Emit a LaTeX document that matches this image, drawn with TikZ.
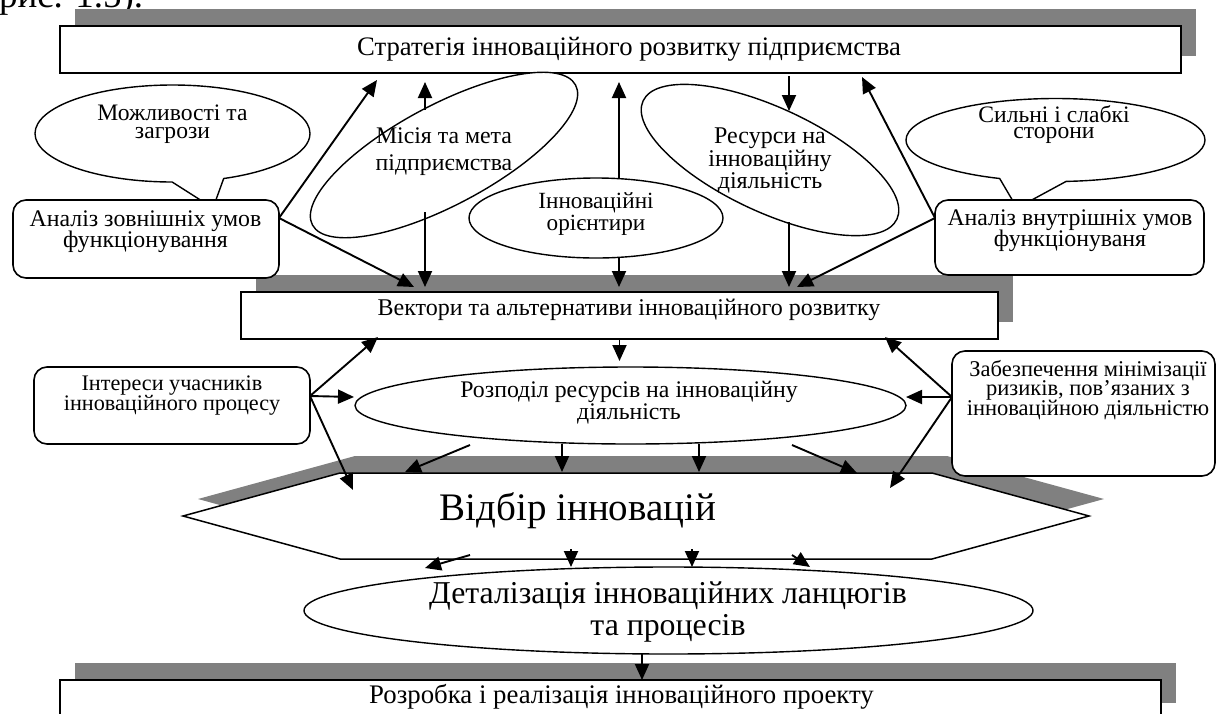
\documentclass[tikz,border=0pt]{standalone}
\usepackage{fontspec}
\setmainfont{Liberation Serif}
\usetikzlibrary{arrows.meta,shapes.geometric,shapes.callouts,shadows,calc}
\definecolor{shadowgray}{RGB}{128,128,128}
\newcommand\mlines[1]{\begin{tabular}[t]{@{}c@{}}#1\end{tabular}}
\newcommand\fs[2]{\fontsize{#1}{#2}\selectfont}
\begin{document}
\begin{tikzpicture}[x=1pt,y=-1pt,
  every node/.style={inner sep=0pt,outer sep=0pt},
  shad/.style={drop shadow={shadow xshift=15pt,shadow yshift=17pt,fill=shadowgray,opacity=1}},
  sbox/.style={draw,fill=white,line width=1.8pt,rectangle,shad},
  rbox/.style={draw,fill=white,line width=1.6pt,rectangle,rounded corners=13pt},
  ell/.style={draw,fill=white,line width=1.4pt,ellipse},
  call/.style={draw,fill=white,line width=1.4pt,ellipse callout},
  arr/.style={line width=1.9pt,-{Triangle[length=16pt,width=14pt]}},
  lbl/.style={anchor=base,text=black},
]
\useasboundingbox (0,0) rectangle (1216,713);

% caption fragment cut by the top edge
\node[anchor=base west,font=\fs{37}{37}] (cap) at (-1,7) {рис. 1.5).};

% boxes with shadows
\node[sbox,minimum width=1121pt,minimum height=47pt] (strat) at (620.5,49.5) {};
\node[sbox,minimum width=757pt,minimum height=47pt] (vec) at (619.5,315.5) {};
\draw[line width=1.5pt,fill=white,shad] (340,473) -- (932,473) -- (1089,516) -- (932,559) -- (340,559) -- (183,516) -- cycle;
\node[sbox,minimum width=1101pt,minimum height=40pt] (rozr) at (610.5,700) {};

% ellipses
\node[ell,minimum width=298pt,minimum height=100pt,rotate=28] (mis) at (444,155) {};
\node[ell,minimum width=254pt,minimum height=80pt] (ori) at (596,218) {};
\node[ell,minimum width=280pt,minimum height=104pt,rotate=-25] (res) at (770,160) {};
\node[ell,minimum width=551pt,minimum height=77pt] (rozp) at (630.5,405.5) {};
\node[ell,minimum width=729pt,minimum height=87pt] (det) at (668.5,610.5) {};

% callouts
\node[call,minimum width=275pt,minimum height=97pt,callout pointer arc=22,callout absolute pointer={(213,208)}] (mog) at (172.5,133.5) {};
\node[call,minimum width=299pt,minimum height=83pt,callout pointer arc=26,callout absolute pointer={(1017,208)}] (syl) at (1055.5,140) {};

% rounded boxes
\node[rbox,minimum width=266pt,minimum height=78pt] (an1) at (146,239) {};
\node[rbox,minimum width=269pt,minimum height=75pt] (an2) at (1069.5,237.5) {};
\node[rbox,minimum width=276pt,minimum height=77pt] (int) at (172,405.5) {};
\node[rbox,minimum width=263pt,minimum height=125pt] (zab) at (1083.5,413.5) {};

% texts
\node[lbl,font=\fs{26.7}{26.7}] (tstrat) at (629,55) {Стратегія інноваційного розвитку підприємства};
\node[lbl,font=\fs{24}{24}] (tvec) at (629,315) {Вектори та альтернативи інноваційного розвитку};
\node[lbl,font=\fs{26.8}{26.8}] (trozr) at (621.5,703) {Розробка і реалізація інноваційного проекту};
\node[lbl,font=\fs{39}{39}] (tsel) at (578,520) {Відбір інновацій};
\node[lbl,font=\fs{31.8}{32}] (tdet) at (668,603) {\mlines{Деталізація інноваційних ланцюгів\\та процесів}};
\node[lbl,font=\fs{23.8}{21}] (trozp) at (629,397) {\mlines{Розподіл ресурсів на інноваційну\\діяльність}};
\node[lbl,font=\fs{23.6}{18}] (tmog) at (172.5,120) {\mlines{Можливості та\\загрози}};
\node[lbl,font=\fs{23.6}{16}] (tsyl) at (1054,122.5) {\mlines{Сильні і слабкі\\сторони}};
\node[lbl,font=\fs{23.8}{18}] (tan1) at (145.5,226) {\mlines{Аналіз зовнішніх умов\\функціонування}};
\node[lbl,font=\fs{23.8}{16.5}] (tan2) at (1070,225) {\mlines{Аналіз внутрішніх умов\\функціонуваня}};
\node[lbl,font=\fs{22.2}{17.5}] (tint) at (172,390) {\mlines{Інтереси учасників\\інноваційного процесу}};
\node[lbl,font=\fs{22.5}{14.5}] (tzab) at (1088,376) {\mlines{Забезпечення мінімізації\\ризиків, пов’язаних з\\інноваційною діяльністю}};
\node[lbl,font=\fs{23.8}{27}] (tmis) at (444,143) {\mlines{Місія та мета\\підприємства}};
\node[lbl,font=\fs{23.2}{22}] (tori) at (596,208) {\mlines{Інноваційні\\орієнтири}};
\node[lbl,font=\fs{24}{22.5}] (tres) at (770,143) {\mlines{Ресурси на\\інноваційну\\діяльність}};

% ports and free ends
\coordinate (pA) at ($(an1.east)+(0,-21)$);
\coordinate (pB) at ($(an2.west)+(0,-19.5)$);
\coordinate (pC) at ($(int.east)+(0,-9.5)$);
\coordinate (pD) at ($(zab.west)+(0,-16.5)$);
\coordinate (mT) at (425,110);
\coordinate (mB) at (425,212);
\coordinate (oT) at (619,179);
\coordinate (oB) at (619,258);
\coordinate (rT) at (789,111);
\coordinate (rB) at (789,222);
\coordinate (dB) at (642,654);
\coordinate (e1) at (377,80);
\coordinate (e2) at (414,287);
\coordinate (e9) at (862,77);
\coordinate (e10) at (797,287);
\coordinate (e12) at (378,337);
\coordinate (e13) at (354,397);
\coordinate (e14) at (353,490);
\coordinate (e15) at (885,337);
\coordinate (e16) at (906,397);
\coordinate (e17) at (890,488);
\coordinate (b1) at (470,445); \coordinate (c1) at (405,472);
\coordinate (b2) at (562,444); \coordinate (c2) at (562,472);
\coordinate (b3) at (699,444); \coordinate (c3) at (699,472);
\coordinate (b4) at (792,445); \coordinate (c4) at (857,473);
\coordinate (h1) at (470,555); \coordinate (k1) at (425,568);
\coordinate (h2) at (571,549); \coordinate (k2) at (571,567);
\coordinate (h3) at (692,549); \coordinate (k3) at (692,567);
\coordinate (h4) at (792,555); \coordinate (k4) at (810,567);

% connectors
\draw[arr] (pA) -- (e1);
\draw[arr] (pA) -- (e2);
\draw[arr,shorten >=9pt] (mT) -- (mT |- strat.south);
\draw[arr,shorten >=5pt] (mB) -- (mB |- vec.north);
\draw[arr,shorten >=9pt] (oT) -- (oT |- strat.south);
\draw[arr,shorten >=5pt] (oB) -- (oB |- vec.north);
\draw[arr,shorten <=3pt] (rT |- strat.south) -- (rT);
\draw[arr,shorten >=5pt] (rB) -- (rB |- vec.north);
\draw[arr] (pB) -- (e9);
\draw[arr] (pB) -- (e10);
\draw[arr,shorten >=6pt] (vec.south) -- (vec.south |- rozp.north);
\draw[arr] (pC) -- (e12);
\draw[arr] (pC) -- (e13);
\draw[arr] (pC) -- (e14);
\draw[arr] (pD) -- (e15);
\draw[arr] (pD) -- (e16);
\draw[arr] (pD) -- (e17);
\draw[arr] (b1) -- (c1);
\draw[arr] (b2) -- (c2);
\draw[arr] (b3) -- (c3);
\draw[arr] (b4) -- (c4);
\draw[arr] (h1) -- (k1);
\draw[arr] (h2) -- (k2);
\draw[arr] (h3) -- (k3);
\draw[arr] (h4) -- (k4);
\draw[arr] (dB) -- (dB |- rozr.north);
\end{tikzpicture}
\end{document}
